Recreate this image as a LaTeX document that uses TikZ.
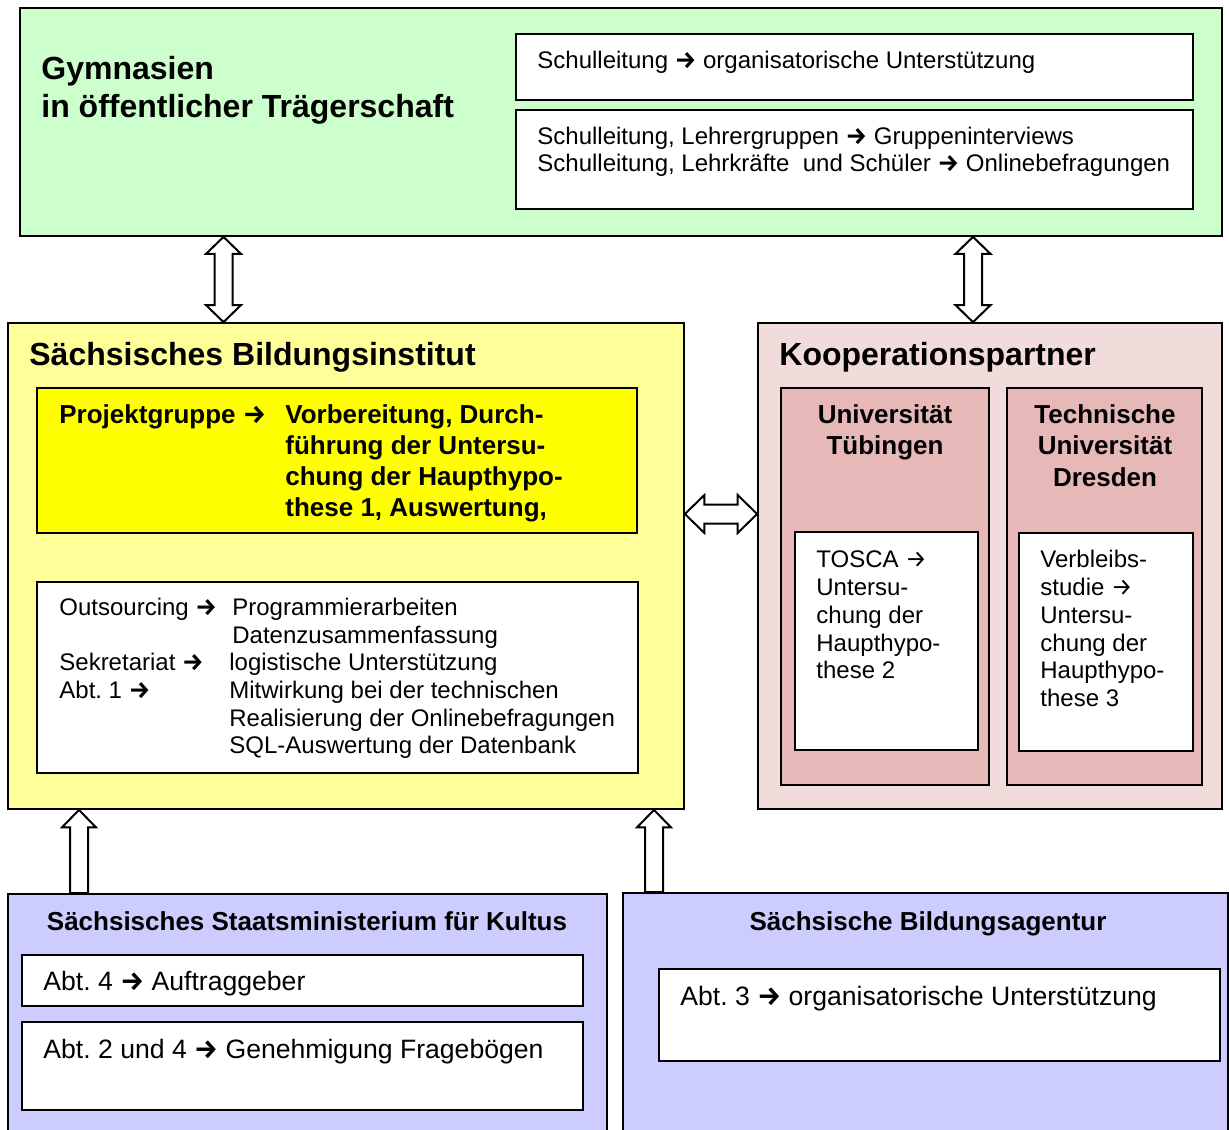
\documentclass[tikz,border=0pt]{standalone}
\usepackage{fontspec}
\setmainfont{Liberation Sans}
\newfontfamily\pfeilfont{Fira Sans}
\usetikzlibrary{positioning, calc, fit}

\definecolor{gruen}{HTML}{CCFFCC}
\definecolor{hellgelb}{HTML}{FFFF99}
\definecolor{gelb}{HTML}{FFFF00}
\definecolor{rosa}{HTML}{F2DCDB}
\definecolor{altrosa}{HTML}{E6B9B8}
\definecolor{lila}{HTML}{CCCCFF}

\frenchspacing
\newcommand{\pfeil}{{\pfeilfont\bfseries →}}
\newcommand{\duenn}{{\pfeilfont →}}
% hollow block arrows between two points
\newcommand{\dblvarrow}[2]{%
  \draw[hollow] let \p1=(#1), \p2=(#2) in
    (\x1,\y1) -- (\x1+8.75pt,\y1-8.5pt) -- (\x1+4.5pt,\y1-8.5pt) -- (\x1+4.5pt,\y2+8.5pt)
    -- (\x1+8.75pt,\y2+8.5pt) -- (\x1,\y2) -- (\x1-8.75pt,\y2+8.5pt) -- (\x1-4.5pt,\y2+8.5pt)
    -- (\x1-4.5pt,\y1-8.5pt) -- (\x1-8.75pt,\y1-8.5pt) -- cycle;}
\newcommand{\dblharrow}[2]{%
  \draw[hollow] let \p1=(#1), \p2=(#2) in
    (\x1,\y1) -- (\x1+9.75pt,\y1+9.5pt) -- (\x1+9.75pt,\y1+4.75pt) -- (\x2-9.75pt,\y1+4.75pt)
    -- (\x2-9.75pt,\y1+9.5pt) -- (\x2,\y1) -- (\x2-9.75pt,\y1-9.5pt) -- (\x2-9.75pt,\y1-4.75pt)
    -- (\x1+9.75pt,\y1-4.75pt) -- (\x1+9.75pt,\y1-9.5pt) -- cycle;}
\newcommand{\uparr}[2]{% from #1 (bottom) up to #2 (tip)
  \draw[hollow] let \p1=(#1), \p2=(#2) in
    (\x1-4.5pt,\y1) -- (\x1-4.5pt,\y2-8.75pt) -- (\x1-8.5pt,\y2-8.75pt) -- (\x1,\y2)
    -- (\x1+8.5pt,\y2-8.75pt) -- (\x1+4.5pt,\y2-8.75pt) -- (\x1+4.5pt,\y1) -- cycle;}

\tikzset{
  box/.style={draw, line width=0.9pt, inner sep=0pt},
  hollow/.style={draw, fill=white, line width=1pt, line join=miter},
  txt/.style={inner sep=0pt, anchor=base west, font=\fontsize{12}{13.8}\selectfont},
  gross/.style={txt, font=\fontsize{13.3}{15.3}\selectfont},
  head/.style={inner sep=0pt, anchor=base west, font=\fontsize{16}{19}\selectfont\bfseries},
  sub/.style={inner sep=0pt, anchor=base, font=\fontsize{13}{15.7}\selectfont\bfseries}
}

\begin{document}
\begin{tikzpicture}[x=0.5pt, y=-0.5pt]
\useasboundingbox (0,0) rectangle (1229,1129);
\clip (0,0) rectangle (1229,1129);

% Gymnasien
\node[box, fill=gruen, fit={(20,8) (1222,236)}] (gym) {};
\node[box, fill=white, fit={(516,34) (1193,100)}] (gym1) {};
\node[box, fill=white, fit={(516,110) (1193,209)}] (gym2) {};
\node[head] (gymtitel) at (41,79.5) {\begin{tabular}[t]{@{}l@{}}Gymnasien\\in öffentlicher Trägerschaft\end{tabular}};
\node[txt] (gymtxt1) at (537,68.6) {Schulleitung \pfeil\ organisatorische Unterstützung};
\node[txt, font=\fontsize{12}{13.5}\selectfont] (gymtxt2) at (537,144.6) {\begin{tabular}[t]{@{}l@{}}
  Schulleitung, Lehrergruppen \pfeil\ Gruppeninterviews\\
  Schulleitung, Lehrkräfte\ \ und Schüler \pfeil\ Onlinebefragungen\end{tabular}};

% Bildungsinstitut
\node[box, fill=hellgelb, fit={(8,323) (684,809)}] (sbi) {};
\node[head] (sbititel) at (29,365.5) {Sächsisches Bildungsinstitut};
\node[box, fill=gelb, fit={(37,388) (637,533)}] (projekt) {};
\node[txt, font=\fontsize{13}{15.5}\selectfont\bfseries] (projekttxt) at (59,423.3) {\begin{tabular}[t]{@{}p{113pt}@{}l@{}}
  Projektgruppe \pfeil & Vorbereitung, Durch-\\
  & führung der Untersu-\\
  & chung der Haupthypo-\\
  & these 1, Auswertung,\end{tabular}};
\node[box, fill=white, fit={(37,582) (638,773)}] (extern) {};
\node[txt] (externtxt) at (59,615.6) {\begin{tabular}[t]{@{}p{85pt}@{}l@{}}
  Outsourcing \pfeil & \hspace{1.5pt}Programmierarbeiten\\
  & \hspace{1.5pt}Datenzusammenfassung\\
  Sekretariat \pfeil & logistische Unterstützung\\
  Abt. 1 \pfeil & Mitwirkung bei der technischen\\
  & Realisierung der Onlinebefragungen\\
  & SQL-Auswertung der Datenbank\end{tabular}};

% Kooperationspartner
\node[box, fill=rosa, fit={(758,323) (1222,809)}] (koop) {};
\node[head] (kooptitel) at (779,365.5) {Kooperationspartner};
\node[box, fill=altrosa, fit={(781,388) (989,785)}] (tue) {};
\node[box, fill=altrosa, fit={(1007,388) (1202,785)}] (tud) {};
\node[sub] (tuetitel) at (885,423.3) {\begin{tabular}[t]{@{}c@{}}Universität\\Tübingen\end{tabular}};
\node[sub] (tudtitel) at (1105,423.3) {\begin{tabular}[t]{@{}c@{}}Technische\\Universität\\Dresden\end{tabular}};
\node[box, fill=white, fit={(795,532) (978,750)}] (tosca) {};
\node[box, fill=white, fit={(1019,533) (1193,751)}] (verbleib) {};
\node[txt, font=\fontsize{12}{13.9}\selectfont] (toscatxt) at (816,567.6) {\begin{tabular}[t]{@{}l@{}}
  TOSCA \duenn\\Untersu-\\chung der\\Haupthypo-\\these 2\end{tabular}};
\node[txt, font=\fontsize{12}{13.9}\selectfont] (verbleibtxt) at (1040,567.6) {\begin{tabular}[t]{@{}l@{}}
  Verbleibs-\\studie \duenn\\Untersu-\\chung der\\Haupthypo-\\these 3\end{tabular}};

% Ministerium und Agentur
\node[box, fill=lila, fit={(8,894) (607,1140)}] (smk) {};
\node[sub] (smktitel) at (307,930.3) {Sächsisches Staatsministerium für Kultus};
\node[box, fill=white, fit={(22,955) (583,1006)}] (abt4) {};
\node[gross] (abt4txt) at (43,990.5) {Abt. 4 \pfeil\ Auftraggeber};
\node[box, fill=white, fit={(22,1022) (583,1110)}] (abt24) {};
\node[gross] (abt24txt) at (43,1058.5) {Abt. 2 und 4 \pfeil\ Genehmigung Fragebögen};
\node[box, fill=lila, fit={(623,893) (1228,1140)}] (sba) {};
\node[sub] (sbatitel) at (928,930.3) {Sächsische Bildungsagentur};
\node[box, fill=white, fit={(659,969) (1220,1061)}] (abt3) {};
\node[gross] (abt3txt) at (680,1005.5) {Abt. 3 \pfeil\ organisatorische Unterstützung};

% Pfeile
\coordinate (xa) at (223.5,0);
\coordinate (xb) at (973,0);
\coordinate (ya) at (0,514);
\coordinate (xc) at (79,0);
\coordinate (xd) at (654,0);
\dblvarrow{gym.south -| xa}{sbi.north -| xa}
\dblvarrow{gym.south -| xb}{koop.north -| xb}
\dblharrow{sbi.east |- ya}{koop.west |- ya}
\uparr{smk.north -| xc}{sbi.south -| xc}
\uparr{sba.north -| xd}{sbi.south -| xd}
\end{tikzpicture}
\end{document}
